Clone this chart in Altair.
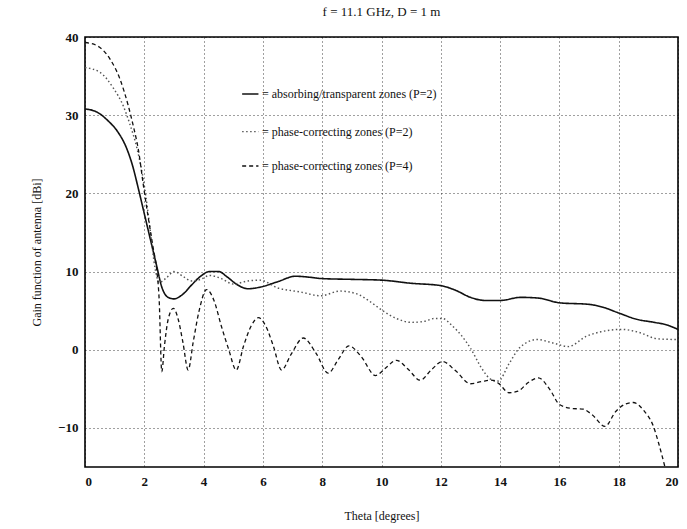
import altair as alt
import pandas as pd

# Gain patterns versus off-axis angle, f = 11.1 GHz, D = 1 m
theta_abs = [0, 0.4, 0.8, 1.1, 1.4, 1.6, 1.8, 2.0, 2.2, 2.4, 2.6, 2.8, 3.0, 3.3, 3.6, 3.9,
             4.2, 4.5, 4.8, 5.1, 5.5, 5.9, 6.5, 7.1, 7.5, 8.0, 9.0, 10.0, 11.0, 12.0,
             12.5, 13.0, 13.5, 14.0, 14.7, 15.3, 16.0, 17.0, 17.5, 18.0, 18.6, 19.2,
             19.6, 20.0]
gain_abs = [30.8, 30.4, 29.2, 27.9, 25.8, 23.6, 20.6, 17.4, 14.2, 11.0, 7.9, 6.7, 6.5,
            7.1, 8.3, 9.4, 10.0, 10.0, 9.3, 8.4, 7.8, 8.0, 8.7, 9.4, 9.3, 9.1, 9.0, 8.9,
            8.5, 8.2, 7.6, 6.7, 6.3, 6.3, 6.7, 6.6, 6.0, 5.8, 5.4, 4.7, 3.9, 3.5, 3.2, 2.6]

theta_p2 = [0, 0.5, 0.95, 1.3, 1.5, 1.75, 2.0, 2.2, 2.36, 2.5, 2.75, 3.0, 3.3, 3.6, 3.9,
            4.2, 4.6, 5.0, 5.5, 5.9, 6.5, 7.25, 7.95, 8.6, 9.2, 9.6, 10.0, 10.5, 11.0,
            11.4, 11.8, 12.05, 12.4, 12.7, 13.0, 13.4, 13.7, 13.94, 14.3, 14.67, 15.25,
            15.8, 16.3, 16.9, 17.4, 18.1, 18.7, 19.3, 20.0]
gain_p2 = [36.1, 35.5, 33.5, 31.1, 29.0, 25.8, 21.0, 15.3, 10.5, 8.6, 9.2, 10.0, 9.4,
           8.8, 9.0, 9.5, 9.1, 8.4, 8.8, 8.9, 7.9, 7.4, 6.9, 7.5, 7.1, 6.2, 5.1, 4.0,
           3.5, 3.6, 4.0, 4.0, 3.0, 1.8, 0.2, -2.5, -3.8, -4.0, -1.8, 0.3, 1.3, 0.85,
           0.4, 1.7, 2.3, 2.6, 2.2, 1.4, 1.3]

theta_p4 = [0, 0.4, 0.84, 1.18, 1.46, 1.63, 1.8, 1.97, 2.15, 2.3, 2.42, 2.5, 2.59, 2.68,
            2.8, 2.98, 3.15, 3.3, 3.48, 3.65, 3.85, 4.1, 4.35, 4.6, 4.85, 5.1, 5.35, 5.6,
            5.85, 6.1, 6.35, 6.63, 6.95, 7.36, 7.8, 8.2, 8.55, 8.9, 9.3, 9.8, 10.15,
            10.5, 10.9, 11.3, 11.7, 12.05, 12.5, 13.0, 13.4, 13.7, 13.95, 14.3, 14.6,
            14.95, 15.29, 15.68, 16.0, 16.4, 16.8, 17.1, 17.54, 17.9, 18.2, 18.49, 18.85,
            19.17, 19.35, 19.56]
gain_p4 = [39.3, 38.9, 37.2, 34.6, 31.2, 28.6, 25.6, 21.0, 16.5, 13.0, 10.2, 6.5, -2.8,
           0.5, 3.8, 5.3, 3.8, 1.0, -2.6, 1.0, 5.0, 7.7, 6.3, 3.0, 0.0, -2.6, 0.5, 3.0,
           4.1, 3.0, 0.5, -2.6, -0.6, 1.5, -0.5, -3.0, -1.2, 0.5, -0.8, -3.3, -2.3,
           -1.35, -2.5, -3.9, -2.5, -1.5, -2.7, -4.35, -4.05, -3.9, -4.3, -5.5, -5.3,
           -4.2, -3.6, -5.1, -7.0, -7.5, -7.6, -8.3, -9.8, -7.9, -7.0, -6.75, -7.8,
           -9.8, -12.0, -15.0]

series_names = ["abs", "p2", "p4"]
legend_labels = ["= absorbing/transparent zones (P=2)",
                 "= phase-correcting zones (P=2)",
                 "= phase-correcting zones (P=4)"]
legend_gain = [32.7, 27.9, 23.5]

x_ticks = list(range(0, 21, 2))
y_ticks = [-10, 0, 10, 20, 30, 40]

FONT = "Liberation Serif"

rows = []
for name, th, g in [("abs", theta_abs, gain_abs),
                    ("p2", theta_p2, gain_p2),
                    ("p4", theta_p4, gain_p4)]:
    rows += [{"series": name, "theta": t, "gain": v} for t, v in zip(th, g)]
curves = pd.DataFrame(rows)

key = pd.DataFrame({
    "series": series_names,
    "x1": [5.3] * 3,
    "x2": [5.85] * 3,
    "xt": [5.97] * 3,
    "gain": legend_gain,
    "label": legend_labels,
})

dash_scale = alt.Scale(domain=series_names, range=[[1, 0], [1.5, 2.5], [4, 3]])
color_scale = alt.Scale(domain=series_names, range=["#111111", "#555555", "#111111"])
width_scale = alt.Scale(domain=series_names, range=[1.6, 1.3, 1.5])

x_enc = alt.X("theta:Q", scale=alt.Scale(domain=[0, 20], nice=False),
              axis=alt.Axis(values=x_ticks, title="Theta [degrees]", format="d"))
y_enc = alt.Y("gain:Q", scale=alt.Scale(domain=[-15, 40], nice=False),
              axis=alt.Axis(values=y_ticks, title="Gain function of antenna [dBi]"))

lines = alt.Chart(curves).mark_line(interpolate="monotone", clip=True).encode(
    x=x_enc,
    y=y_enc,
    strokeDash=alt.StrokeDash("series:N", scale=dash_scale, legend=None),
    color=alt.Color("series:N", scale=color_scale, legend=None),
    strokeWidth=alt.StrokeWidth("series:N", scale=width_scale, legend=None),
    detail="series:N",
)

key_marks = alt.Chart(key).mark_rule().encode(
    x="x1:Q",
    x2="x2",
    y="gain:Q",
    strokeDash=alt.StrokeDash("series:N", scale=dash_scale, legend=None),
    color=alt.Color("series:N", scale=color_scale, legend=None),
    strokeWidth=alt.StrokeWidth("series:N", scale=width_scale, legend=None),
)

key_text = alt.Chart(key).mark_text(
    align="left", baseline="middle", font=FONT, fontSize=12, color="#111111"
).encode(x="xt:Q", y="gain:Q", text="label:N")

chart = (
    alt.layer(lines, key_marks, key_text)
    .properties(
        width=593,
        height=430,
        title=alt.TitleParams("f = 11.1 GHz, D = 1 m", font=FONT, fontSize=13,
                              fontWeight="normal", color="#111111", offset=12),
        padding={"left": 85, "top": 37, "right": 9, "bottom": 62},
        autosize="none",
    )
    .configure_view(stroke="#000000", strokeWidth=1.6)
    .configure_axis(
        domain=False,
        ticks=False,
        grid=True,
        gridColor="#000000",
        gridOpacity=0.75,
        gridDash=[1, 3],
        gridWidth=1,
        labelFont=FONT,
        labelFontSize=13,
        labelFontWeight="bold",
        labelColor="#111111",
        titleFont=FONT,
        titleFontSize=12,
        titleFontWeight="normal",
        titleColor="#111111",
    )
    .configure_axisX(labelPadding=8, titlePadding=22)
    .configure_axisY(labelPadding=7, titlePadding=14)
)

chart.save("out.html", embed_options={"renderer": "svg", "actions": False})
